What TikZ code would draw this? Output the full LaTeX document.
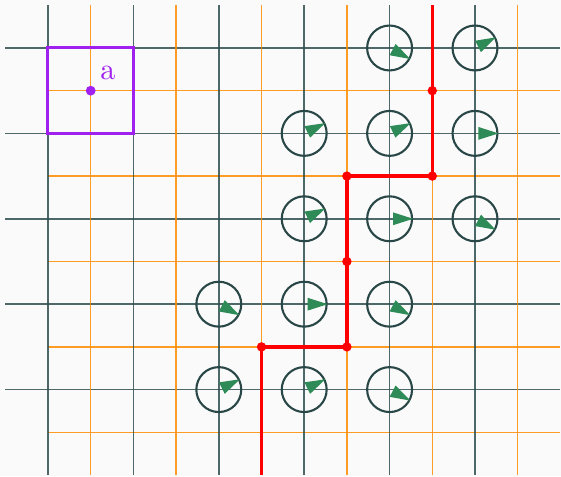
\documentclass[tikz,border=0pt]{standalone}
\usepackage{tikz}
\usetikzlibrary{positioning}
\definecolor{gridDark}{RGB}{47, 79, 79}
\definecolor{gridOrange}{RGB}{255, 140, 0}
\definecolor{flowGreen}{RGB}{46, 139, 87}
\definecolor{cutRed}{RGB}{255, 0, 0}
\definecolor{markPurple}{RGB}{160, 32, 240}
\definecolor{paper}{RGB}{250, 250, 250}

\begin{document}
\begin{tikzpicture}[
  majorline/.style={gridDark, opacity=0.85, line width=0.5pt},
  minorline/.style={gridOrange, opacity=0.85, line width=0.45pt},
  cell/.style={circle, draw=gridDark!90!black, line width=0.7pt, minimum size=0.526cm, inner sep=0pt},
  flowtip/.style={fill=flowGreen, draw=none},
  cutdot/.style={circle, fill=cutRed, minimum size=0.11cm, inner sep=0pt},
  cutline/.style={cutRed, line width=1.2pt},
  probe/.style={draw=markPurple, line width=1pt},
  probedot/.style={circle, fill=markPurple, minimum size=0.115cm, inner sep=0pt}
]
  % Fond et cadre
  \fill[paper] (-0.562,0.562) rectangle (6.007,-5.012);
  \useasboundingbox (-0.562,0.562) rectangle (6.007,-5.012);

  % Grille principale et grille intermediaire
  \foreach \j in {0,...,4} \draw[majorline] (-0.5,-\j) -- (6.0,-\j);
  \foreach \i in {0,...,5} \draw[minorline] (\i+0.5,0.5) -- (\i+0.5,-5.0);
  \foreach \j in {0,...,4} \draw[minorline] (0,-\j-0.5) -- (6.0,-\j-0.5);
  \foreach \i in {0,...,5} \draw[majorline] (\i,0.5) -- (\i,-5.0);

  % Cellules avec direction
  \foreach \i/\j/\ang in {4/0/-28, 5/0/27,
                          3/1/26, 4/1/26, 5/1/0,
                          3/2/26, 4/2/0, 5/2/-28,
                          2/3/-28, 3/3/0, 4/3/-28,
                          2/4/26, 3/4/26, 4/4/-28} {
    \node[cell] (cell-\i-\j) at (\i,-\j) {};
    \fill[flowtip, shift={(cell-\i-\j.center)}, rotate=\ang]
      (0.04,0.075) -- (0.275,0) -- (0.04,-0.075) -- cycle;
  }

  % Frontiere
  \coordinate (cuttop) at (4.5,0.5);
  \node[cutdot] (cut1) at (4.5,-0.5) {};
  \node[cutdot] (cut2) at (4.5,-1.5) {};
  \node[cutdot] (cut3) at (3.5,-1.5) {};
  \node[cutdot] (cut4) at (3.5,-2.5) {};
  \node[cutdot] (cut5) at (3.5,-3.5) {};
  \node[cutdot] (cut6) at (2.5,-3.5) {};
  \coordinate (cutbot) at (2.5,-5.0);
  \draw[cutline] (cuttop) -- (cut1.center) -- (cut2.center) -- (cut3.center)
    -- (cut4.center) -- (cut5.center) -- (cut6.center) -- (cutbot);

  % Sonde a
  \draw[probe] (0,0) rectangle (1,-1);
  \node[probedot] (probe) at (0.5,-0.5) {};
  \node[text=markPurple, inner sep=0pt] (probelabel) at (0.70,-0.29) {a};
\end{tikzpicture}
\end{document}
